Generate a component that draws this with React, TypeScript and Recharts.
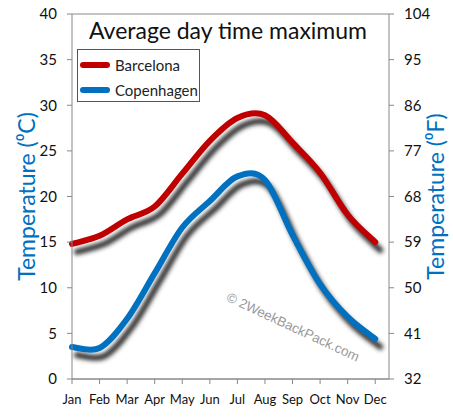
import React from 'react';
import { LineChart, Line, CartesianGrid, XAxis, YAxis, Legend } from 'recharts';

const months = ['Jan', 'Feb', 'Mar', 'Apr', 'May', 'Jun', 'Jul', 'Aug', 'Sep', 'Oct', 'Nov', 'Dec'];
const barcelona = [14.8, 15.7, 17.5, 18.9, 22.5, 26.1, 28.6, 28.9, 25.9, 22.6, 18.0, 15.0];
const copenhagen = [3.5, 3.4, 6.6, 11.6, 16.6, 19.5, 22.2, 21.8, 15.8, 10.4, 6.8, 4.4];
const celsiusTicks = [0, 5, 10, 15, 20, 25, 30, 35, 40];
const fahrenheitTicks = [32, 41, 50, 59, 68, 77, 86, 95, 104];

const RED = '#C00000';
const BLUE = '#0070C0';
const GRID = '#888888';
const FONT = 'Lato, "Open Sans", sans-serif';

const data = months.map((m, i) => ({ i, month: m, barcelona: barcelona[i], copenhagen: copenhagen[i] }));

const legendItems = [
  { name: 'Barcelona', color: RED },
  { name: 'Copenhagen', color: BLUE },
];

// Excel-style smoothed line (Catmull-Rom through every point)
function smoothCurve(context: any) {
  let pts: [number, number][] = [];
  return {
    areaStart() {},
    areaEnd() {},
    lineStart() {
      pts = [];
    },
    point(x: number, y: number) {
      pts.push([+x, +y]);
    },
    lineEnd() {
      if (!pts.length) return;
      context.moveTo(pts[0][0], pts[0][1]);
      for (let i = 0; i < pts.length - 1; i++) {
        const p0 = pts[Math.max(i - 1, 0)];
        const p1 = pts[i];
        const p2 = pts[i + 1];
        const p3 = pts[Math.min(i + 2, pts.length - 1)];
        context.bezierCurveTo(
          p1[0] + (p2[0] - p0[0]) / 6,
          p1[1] + (p2[1] - p0[1]) / 6,
          p2[0] - (p3[0] - p1[0]) / 6,
          p2[1] - (p3[1] - p1[1]) / 6,
          p2[0],
          p2[1],
        );
      }
    },
  };
}

function LegendBox() {
  return (
    <div
      style={{
        width: 123,
        height: 53,
        border: '1px solid #555',
        background: '#fff',
        boxSizing: 'border-box',
        padding: '2px 0 0 2px',
        fontFamily: FONT,
        fontSize: 15,
        color: '#222',
        textAlign: 'left',
      }}
    >
      {legendItems.map((it) => (
        <div key={it.name} style={{ display: 'flex', alignItems: 'center', height: 25 }}>
          <span
            style={{
              display: 'inline-block',
              width: 30,
              height: 6,
              borderRadius: 3,
              background: it.color,
              marginRight: 5,
            }}
          />
          {it.name}
        </div>
      ))}
    </div>
  );
}

const tickStyle = { fill: '#111', fontSize: 15, fontFamily: FONT };

export default function App() {
  return (
    <div style={{ position: 'absolute', left: 0, top: 0, width: 453, height: 420, background: '#fff' }}>
      <svg width="0" height="0" style={{ position: 'absolute' }}>
        <defs>
          <filter id="lineShadow" x="-20%" y="-20%" width="140%" height="140%">
            <feOffset in="SourceGraphic" dx="5" dy="8" result="off" />
            <feGaussianBlur in="off" stdDeviation="2" />
          </filter>
        </defs>
      </svg>
      <LineChart width={453} height={420} data={data} margin={{ top: 14, right: 14, bottom: 11, left: 22 }}>
        <CartesianGrid stroke={GRID} vertical={false} />
        <XAxis
          dataKey="i"
          type="number"
          domain={[0, 11.5]}
          ticks={months.map((_, i) => i)}
          tickFormatter={(v: number) => months[v]}
          interval={0}
          height={30}
          tick={{ fill: '#111', fontSize: 13, fontFamily: FONT }}
          tickSize={5}
          tickMargin={11}
          stroke={GRID}
        />
        <YAxis
          yAxisId="c"
          domain={[0, 40]}
          ticks={celsiusTicks}
          width={50}
          tick={tickStyle}
          tickSize={5}
          tickMargin={10}
          stroke={GRID}
          label={{
            value: 'Temperature (⁰C)',
            angle: -90,
            position: 'insideLeft',
            offset: 5,
            style: { fill: BLUE, fontSize: 23, fontFamily: FONT, textAnchor: 'middle' },
          }}
        />
        <YAxis
          yAxisId="f"
          orientation="right"
          type="number"
          domain={[32, 104]}
          allowDataOverflow
          ticks={fahrenheitTicks}
          width={50}
          tick={tickStyle}
          tickSize={5}
          tickMargin={10}
          stroke={GRID}
          label={{
            value: 'Temperature (⁰F)',
            angle: -90,
            position: 'insideRight',
            offset: 3,
            style: { fill: BLUE, fontSize: 23, fontFamily: FONT, textAnchor: 'middle' },
          }}
        />
        <Legend
          layout="horizontal"
          verticalAlign="middle"
          align="center"
          content={() => <LegendBox />}
          wrapperStyle={{ left: 77, top: 49, width: 123 }}
        />
        {/* placeholder series so the Fahrenheit axis gets drawn */}
        <Line
          yAxisId="f"
          dataKey="fahrenheit"
          stroke="none"
          dot={false}
          activeDot={false}
          legendType="none"
          isAnimationActive={false}
        />
        <Line
          yAxisId="c"
          type={smoothCurve as any}
          dataKey="barcelona"
          stroke="#333"
          strokeWidth={6}
          strokeLinecap="round"
          dot={false}
          activeDot={false}
          legendType="none"
          filter="url(#lineShadow)"
          isAnimationActive={false}
        />
        <Line
          yAxisId="c"
          type={smoothCurve as any}
          dataKey="copenhagen"
          stroke="#333"
          strokeWidth={6}
          strokeLinecap="round"
          dot={false}
          activeDot={false}
          legendType="none"
          filter="url(#lineShadow)"
          isAnimationActive={false}
        />
        <Line
          yAxisId="c"
          type={smoothCurve as any}
          dataKey="barcelona"
          name="Barcelona"
          stroke={RED}
          strokeWidth={6}
          strokeLinecap="round"
          dot={false}
          activeDot={false}
          isAnimationActive={false}
        />
        <Line
          yAxisId="c"
          type={smoothCurve as any}
          dataKey="copenhagen"
          name="Copenhagen"
          stroke={BLUE}
          strokeWidth={6}
          strokeLinecap="round"
          dot={false}
          activeDot={false}
          isAnimationActive={false}
        />
      </LineChart>
      <div
        style={{
          position: 'absolute',
          left: 0,
          top: 16,
          width: 456,
          textAlign: 'center',
          fontFamily: FONT,
          fontSize: 23,
          color: '#111',
          pointerEvents: 'none',
        }}
      >
        Average day time maximum
      </div>
      <div
        style={{
          position: 'absolute',
          left: 293,
          top: 327,
          transform: 'translate(-50%, -50%) rotate(25deg)',
          whiteSpace: 'nowrap',
          fontFamily: '"Liberation Sans", Arial, sans-serif',
          fontSize: 13.5,
          color: '#999',
          pointerEvents: 'none',
        }}
      >
        © 2WeekBackPack.com
      </div>
    </div>
  );
}
